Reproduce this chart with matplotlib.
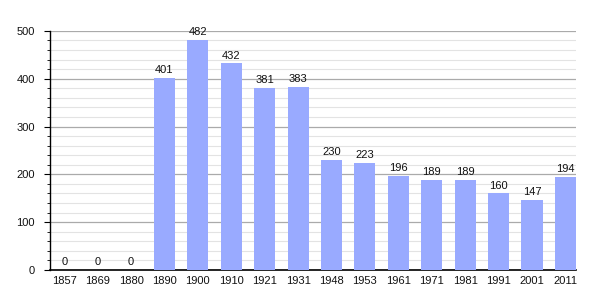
import matplotlib.pyplot as plt
from matplotlib.ticker import MultipleLocator

plt.rcParams['font.family'] = ['Liberation Sans', 'DejaVu Sans']

years = ['1857', '1869', '1880', '1890', '1900', '1910', '1921', '1931',
         '1948', '1953', '1961', '1971', '1981', '1991', '2001', '2011']
population = [0, 0, 0, 401, 482, 432, 381, 383, 230, 223, 196, 189, 189, 160, 147, 194]

fig = plt.figure(figsize=(6.05, 3.0), dpi=100)
ax = fig.add_axes([0.083, 0.1, 0.869, 0.797])

x = range(len(years))
ax.bar(x, population, width=0.63, color='#99aaff', zorder=3)

# value labels above bars
for xi, v in zip(x, population):
    ax.text(xi, v + 6, str(v), ha='center', va='bottom', fontsize=8, color='#111111')

ax.set_xlim(-0.42, len(years) - 1 + 0.315)
ax.set_ylim(0, 500)
ax.set_xticks(list(x))
ax.set_xticklabels(years)
ax.yaxis.set_major_locator(MultipleLocator(100))
ax.yaxis.set_minor_locator(MultipleLocator(20))
ax.grid(axis='y', which='major', color='#aaaaaa', linewidth=0.9, zorder=0)
ax.grid(axis='y', which='minor', color='#e3e3e3', linewidth=0.8, zorder=0)

for side in ['top', 'right']:
    ax.spines[side].set_visible(False)
ax.spines['left'].set_linewidth(1.0)
ax.spines['bottom'].set_linewidth(1.2)
ax.tick_params(axis='x', length=0, labelsize=8, labelcolor='#111111', pad=4)
ax.tick_params(axis='y', which='major', length=4, labelsize=8, labelcolor='#111111', pad=7)
ax.tick_params(axis='y', which='minor', length=2)

fig.savefig('out.png', dpi=100)
